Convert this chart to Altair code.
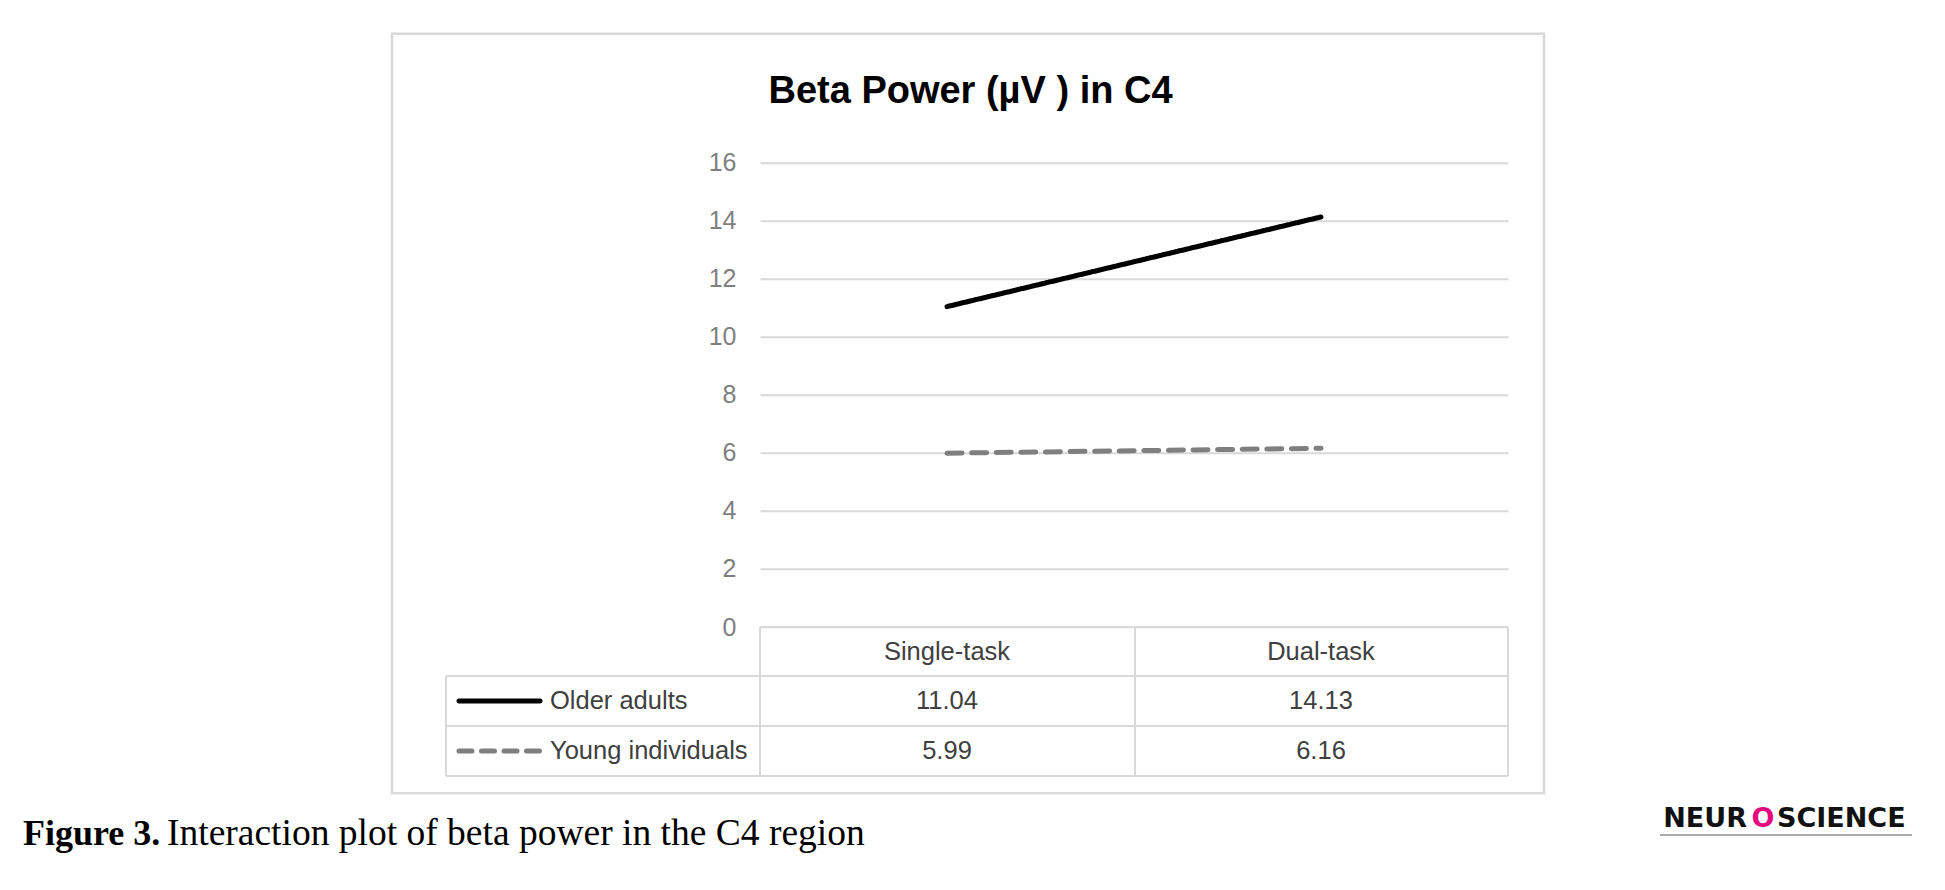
import altair as alt
import pandas as pd

# ---- data ----
conditions = ["Single-task", "Dual-task"]
groups = ["Older adults", "Young individuals"]
older_values = [11.04, 14.13]
young_values = [5.99, 6.16]
y_ticks = [0, 2, 4, 6, 8, 10, 12, 14, 16]

title_text = "Beta Power (\u00b5V ) in C4"
caption_bold = "Figure 3."
caption_rest = "Interaction plot of beta power in the C4 region"

rows = []
for g, vals in zip(groups, [older_values, young_values]):
    for c, v in zip(conditions, vals):
        rows.append({"group": g, "condition": c, "value": v})
df = pd.DataFrame(rows)
cond_df = pd.DataFrame({"condition": conditions})
one = pd.DataFrame({"k": [0]})

# ---- layout (plot area in page pixels) ----
W = 748
H = 464.3
TXT = "#404040"
GRID = "#d9d9d9"
FONT = "Liberation Sans"

xscale = alt.Scale(domain=conditions, paddingInner=0, paddingOuter=0)
X = alt.X("condition:N", sort=conditions, scale=xscale, axis=None)

# outer frame
frame = alt.Chart(one).mark_rect(fillOpacity=0, stroke=GRID, strokeWidth=2.5).encode(
    x=alt.value(-368), x2=alt.value(784), y=alt.value(-129), y2=alt.value(630.5)
)

# lines
lines = alt.Chart(df).mark_line(strokeWidth=5, strokeCap="round").encode(
    x=X,
    y=alt.Y(
        "value:Q",
        scale=alt.Scale(domain=[0, 16], nice=False),
        axis=alt.Axis(
            values=y_ticks, grid=True, gridColor=GRID, gridWidth=2,
            domain=False, ticks=False, labelFontSize=25, labelColor="#7f7f7f",
            labelPadding=24, title=None, labelFont=FONT,
        ),
    ),
    color=alt.Color("group:N", scale=alt.Scale(domain=groups, range=["#000000", "#7f7f7f"]), legend=None),
    strokeDash=alt.StrokeDash("group:N", scale=alt.Scale(domain=groups, range=[[1, 0], [15, 9.6]]), legend=None),
    detail="group:N",
)

# title
title = alt.Chart(one).mark_text(
    text=title_text, font=FONT, fontSize=38, fontWeight="bold", color="#000000",
    align="center", baseline="alphabetic",
).encode(x=alt.value(210.5), y=alt.value(-60))

# data table grid
def hrule(y, x1, x2):
    return alt.Chart(one).mark_rule(color=GRID, strokeWidth=2).encode(
        x=alt.value(x1), x2=alt.value(x2), y=alt.value(y)
    )

def vrule(x, y1, y2):
    return alt.Chart(one).mark_rule(color=GRID, strokeWidth=2).encode(
        x=alt.value(x), y=alt.value(y1), y2=alt.value(y2)
    )

table_lines = [
    hrule(464.3, 0, W), hrule(513.3, -314, W), hrule(563.3, -314, W), hrule(613.3, -314, W),
    vrule(-314, 513.3, 613.3), vrule(0, 464.3, 613.3), vrule(375, 464.3, 613.3), vrule(W, 464.3, 613.3),
]

header = alt.Chart(cond_df).mark_text(font=FONT, fontSize=25.5, color=TXT, baseline="middle").encode(
    x=X, y=alt.value(488.8), text="condition:N"
)

row_y = {"Older adults": 538.3, "Young individuals": 588.3}
value_texts = []
legend_items = []
for g in groups:
    value_texts.append(
        alt.Chart(df).transform_filter(alt.datum.group == g).mark_text(
            font=FONT, fontSize=25.5, color=TXT, baseline="middle"
        ).encode(x=X, y=alt.value(row_y[g]), text=alt.Text("value:Q", format=".2f"))
    )
    legend_items.append(
        alt.Chart(pd.DataFrame({"group": [g]})).mark_text(
            font=FONT, fontSize=25.5, color=TXT, baseline="middle", align="left"
        ).encode(x=alt.value(-210), y=alt.value(row_y[g]), text="group:N")
    )

sample_old = alt.Chart(one).mark_rule(color="#000000", strokeWidth=5, strokeCap="round").encode(
    x=alt.value(-301), x2=alt.value(-220), y=alt.value(row_y["Older adults"])
)
sample_young = alt.Chart(one).mark_rule(
    color="#7f7f7f", strokeWidth=5, strokeCap="round", strokeDash=[13, 9.5]
).encode(x=alt.value(-301), x2=alt.value(-220), y=alt.value(row_y["Young individuals"]))

# caption
cap1 = alt.Chart(one).mark_text(
    text=caption_bold, font="Liberation Serif", fontSize=36, fontWeight="bold",
    color="#000000", align="left", baseline="alphabetic",
).encode(x=alt.value(-737), y=alt.value(682.3))
cap2 = alt.Chart(one).mark_text(
    text=caption_rest, font="Liberation Serif", fontSize=37.5,
    color="#000000", align="left", baseline="alphabetic",
).encode(x=alt.value(-593), y=alt.value(682.3))

# logo
logo_a = alt.Chart(one).mark_text(
    text="NEUR", font="DejaVu Sans", fontSize=27, fontWeight="bold", color="#111111",
    align="right", baseline="alphabetic",
).encode(x=alt.value(987), y=alt.value(664.3))
logo_o = alt.Chart(one).mark_text(
    text="O", font="DejaVu Sans", fontSize=27, fontWeight="bold", color="#e5097f",
    align="center", baseline="alphabetic",
).encode(x=alt.value(1003), y=alt.value(664.3))
logo_b = alt.Chart(one).mark_text(
    text="SCIENCE", font="DejaVu Sans", fontSize=27, fontWeight="bold", color="#111111",
    align="left", baseline="alphabetic",
).encode(x=alt.value(1017), y=alt.value(664.3))
logo_line = alt.Chart(one).mark_rule(color="#8c8c8c", strokeWidth=1.5).encode(
    x=alt.value(900), x2=alt.value(1152), y=alt.value(672.3)
)

chart = alt.layer(
    frame, *table_lines, lines, title, header, *value_texts, *legend_items,
    sample_old, sample_young, cap1, cap2, logo_a, logo_o, logo_b, logo_line,
).properties(
    width=W, height=H,
    autosize=alt.AutoSizeParams(type="none"),
    padding={"left": 752, "top": 154.7, "right": 429, "bottom": 255},
    background="#ffffff",
).configure_view(strokeWidth=0)

chart.save("out.html", embed_options={"renderer": "svg", "actions": False})
